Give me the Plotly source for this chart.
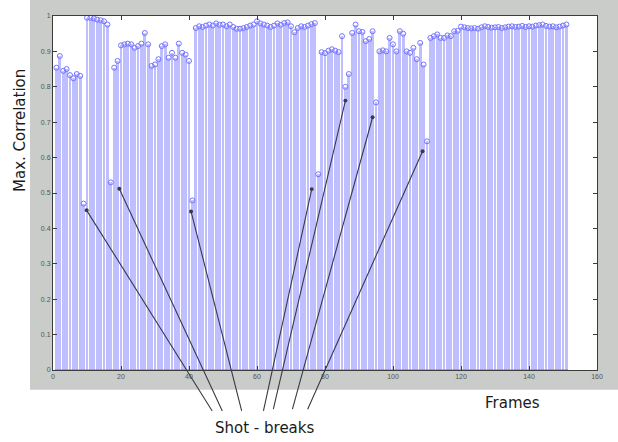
import plotly.graph_objects as go

# Maximum correlation per frame (frames 1..151)
frames = list(range(1, 152))
max_corr = [
    0.854, 0.887, 0.845, 0.850, 0.833, 0.824, 0.836, 0.831, 0.470, 0.995,
    0.995, 0.993, 0.990, 0.988, 0.985, 0.976, 0.530, 0.854, 0.873, 0.917,
    0.920, 0.922, 0.920, 0.910, 0.915, 0.922, 0.952, 0.920, 0.859, 0.863,
    0.878, 0.915, 0.920, 0.882, 0.896, 0.882, 0.922, 0.896, 0.891, 0.873,
    0.479, 0.966, 0.971, 0.969, 0.973, 0.976, 0.973, 0.979, 0.975, 0.976,
    0.971, 0.976, 0.969, 0.964, 0.964, 0.966, 0.969, 0.973, 0.976, 0.985,
    0.979, 0.976, 0.973, 0.969, 0.973, 0.979, 0.975, 0.980, 0.982, 0.971,
    0.954, 0.966, 0.971, 0.969, 0.973, 0.977, 0.980, 0.553, 0.898, 0.895,
    0.902, 0.906, 0.902, 0.898, 0.943, 0.800, 0.836, 0.952, 0.976, 0.957,
    0.955, 0.929, 0.935, 0.957, 0.756, 0.900, 0.903, 0.900, 0.938, 0.920,
    0.900, 0.957, 0.950, 0.900, 0.896, 0.910, 0.878, 0.924, 0.863, 0.646,
    0.938, 0.943, 0.948, 0.938, 0.938, 0.945, 0.943, 0.957, 0.958, 0.970,
    0.968, 0.966, 0.965, 0.966, 0.964, 0.968, 0.971, 0.969, 0.967, 0.968,
    0.969, 0.966, 0.968, 0.970, 0.971, 0.969, 0.970, 0.972, 0.969, 0.971,
    0.970, 0.973, 0.974, 0.976, 0.972, 0.970, 0.971, 0.968, 0.970, 0.973,
    0.976,
]

x_ticks = [0, 20, 40, 60, 80, 100, 120, 140, 160]
y_ticks = [0, 0.1, 0.2, 0.3, 0.4, 0.5, 0.6, 0.7, 0.8, 0.9, 1]
y_tick_text = ["0", "0.1", "0.2", "0.3", "0.4", "0.5", "0.6", "0.7", "0.8", "0.9", "1"]

# Callout arrows: head (frame, value) near each shot break, tail below the axes
arrow_heads = [(9.9, 0.451), (19.5, 0.512), (40.6, 0.448), (76.1, 0.511),
               (86.0, 0.761), (94.0, 0.714), (108.7, 0.618)]
arrow_tails = [(47.1, -0.120), (50.0, -0.120), (55.6, -0.120), (61.8, -0.120),
               (64.7, -0.115), (70.3, -0.115), (74.7, -0.115)]

FIG_BG = "#c9ccc8"
TEXT_FONT = "DejaVu Sans"

fig = go.Figure()

# Stems
fig.add_trace(go.Bar(
    x=frames, y=max_corr, width=0.8,
    marker=dict(color="#bfbfff", line=dict(width=0)),
    hoverinfo="skip", showlegend=False,
))
# Baseline under the stems
fig.add_trace(go.Scatter(
    x=[frames[0] - 0.5, frames[-1] + 0.5], y=[0, 0], mode="lines",
    line=dict(color="#6a6aff", width=1.2), hoverinfo="skip", showlegend=False,
))
# Stem heads
fig.add_trace(go.Scatter(
    x=frames, y=max_corr, mode="markers",
    marker=dict(symbol="circle-open", size=5, color="#7474ff", line=dict(width=1)),
    cliponaxis=False, showlegend=False,
))

annotations = []
for (hx, hy), (tx, ty) in zip(arrow_heads, arrow_tails):
    annotations.append(dict(
        x=hx, y=hy, xref="x", yref="y",
        ax=tx, ay=ty, axref="x", ayref="y",
        showarrow=True, arrowhead=6, arrowsize=0.9, arrowwidth=1.1,
        arrowcolor="#3a3a44", text="",
    ))

annotations += [
    dict(text="Max. Correlation", x=-0.0607, y=0.678, xref="paper", yref="paper",
         textangle=-90, showarrow=False, xanchor="center", yanchor="middle",
         font=dict(family=TEXT_FONT, size=15, color="#1a1a1a")),
    dict(text="Frames", x=0.8438, y=-0.0924, xref="paper", yref="paper",
         showarrow=False, xanchor="center", yanchor="middle",
         font=dict(family=TEXT_FONT, size=15, color="#1a1a1a")),
    dict(text="Shot - breaks", x=0.3897, y=-0.1625, xref="paper", yref="paper",
         showarrow=False, xanchor="center", yanchor="middle",
         font=dict(family=TEXT_FONT, size=15, color="#1a1a1a")),
]

# White strips outside the grey figure window (left and bottom)
shapes = [
    dict(type="rect", xref="paper", yref="paper", x0=-0.11, x1=-0.0423, y0=-0.25, y1=1.1,
         fillcolor="white", line=dict(width=0), layer="above"),
    dict(type="rect", xref="paper", yref="paper", x0=-0.11, x1=1.1, y0=-0.25, y1=-0.056,
         fillcolor="white", line=dict(width=0), layer="above"),
]

axis_common = dict(
    showline=True, linecolor="#3c3c3c", linewidth=1, mirror="ticks",
    ticks="inside", ticklen=4, tickcolor="#3c3c3c", showgrid=False, zeroline=False,
    tickfont=dict(family="Liberation Sans", size=7, color="#555555"),
)

fig.update_layout(
    width=618, height=442, autosize=False,
    margin=dict(l=53, r=21, t=13, b=72),
    paper_bgcolor=FIG_BG, plot_bgcolor="white",
    xaxis=dict(range=[0, 160], tickvals=x_ticks, **axis_common),
    yaxis=dict(range=[0, 1], tickvals=y_ticks, ticktext=y_tick_text, **axis_common),
    annotations=annotations, shapes=shapes, bargap=0,
)

fig.write_html("out.html")
